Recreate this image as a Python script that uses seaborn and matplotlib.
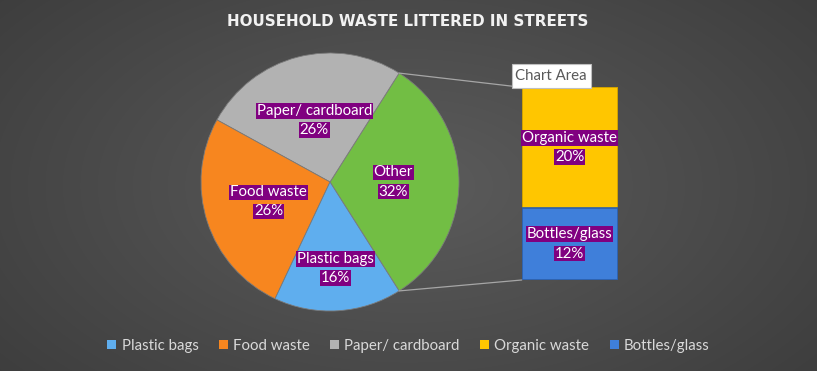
import numpy as np
import matplotlib
matplotlib.use("Agg")
import matplotlib.pyplot as plt
from matplotlib.patches import Patch, Rectangle, ConnectionPatch
import seaborn as sns

# data
pie_labels = ["Other", "Paper/ cardboard", "Food waste", "Plastic bags"]
pie_values = [32, 26, 26, 16]
bar_labels = ["Organic waste", "Bottles/glass"]
bar_values = [20, 12]
legend_labels = ["Plastic bags", "Food waste", "Paper/ cardboard", "Organic waste", "Bottles/glass"]

colores = {"Plastic bags": "#5FAEEE", "Food waste": "#F7861F", "Paper/ cardboard": "#B2B2B2",
           "Other": "#72BE44", "Organic waste": "#FFC600", "Bottles/glass": "#3F7FDA"}
bordes = {"Organic waste": "#C79A00", "Bottles/glass": "#2C5EA8"}

sns.set_theme(style="dark")
plt.rcParams["font.family"] = ["Lato", "DejaVu Sans"]

W, H = 817, 371
fig = plt.figure(figsize=(W / 100, H / 100), dpi=100)
ax = fig.add_axes([0, 0, 1, 1])

# fondo gris con degradado radial
yy, xx = np.mgrid[0:H, 0:W]
d = np.sqrt(((xx - W / 2) / (W * 0.6)) ** 2 + ((yy - H / 2) / (H * 0.75)) ** 2)
g = np.clip(0.36 - 0.11 * d, 0, 1)
ax.imshow(np.dstack([g, g, g]), extent=(0, W, 0, H), zorder=0, aspect="auto")

# pie
cx, cy, r = 330, H - 182, 129
wedges, _ = ax.pie(pie_values, colors=[colores[l] for l in pie_labels], center=(cx, cy), radius=r,
                   startangle=-pie_values[0] / 2 * 3.6, counterclock=True,
                   wedgeprops=dict(edgecolor="#7a7a7a", linewidth=0.6))
for w in wedges:
    w.set_zorder(2)

ax.set_xlim(0, W)
ax.set_ylim(0, H)
ax.set_aspect("equal")
ax.axis("off")

caja = dict(facecolor="#800080", edgecolor="none", pad=0.6)
radios = [0.49, 0.49, 0.5, 0.67]
for w, lab, val, rf in zip(wedges, pie_labels, pie_values, radios):
    ang = np.deg2rad((w.theta1 + w.theta2) / 2)
    tx, ty = cx + rf * r * np.cos(ang), cy + rf * r * np.sin(ang)
    ax.text(tx, ty + 9.5, lab, color="white", fontsize=10.8, ha="center", va="center", bbox=caja, zorder=5)
    ax.text(tx, ty - 9.5, f"{val}%", color="white", fontsize=10.8, ha="center", va="center", bbox=caja, zorder=5)

# barra del desglose de "Other"
bx0, by0, bx1, by1 = 521.7, 87.3, 617.7, 280
axb = fig.add_axes([bx0 / W, (H - by1) / H, (bx1 - bx0) / W, (by1 - by0) / H])
total = sum(bar_values)
sns.barplot(x=[0], y=[total], color=colores[bar_labels[0]], width=1, saturation=1,
            edgecolor=bordes[bar_labels[0]], linewidth=1.2, errorbar=None, ax=axb)
sns.barplot(x=[0], y=[bar_values[1]], color=colores[bar_labels[1]], width=1, saturation=1,
            edgecolor=bordes[bar_labels[1]], linewidth=1.2, errorbar=None, ax=axb)
axb.set_xlim(-0.5, 0.5)
axb.set_ylim(0, total)
axb.axis("off")
axb.patch.set_alpha(0)

abajo = 0
for lab, val in zip(bar_labels[::-1], bar_values[::-1]):
    mid = abajo + val / 2
    axb.text(0, mid + 1.6, lab, color="white", fontsize=10.8, ha="center", va="center", bbox=caja)
    axb.text(0, mid - 1.6, f"{val}%", color="white", fontsize=10.8, ha="center", va="center", bbox=caja)
    abajo += val

# lineas de conexion
w0 = wedges[0]
for th, yb in [(w0.theta2, total), (w0.theta1, 0)]:
    p = (cx + r * np.cos(np.deg2rad(th)), cy + r * np.sin(np.deg2rad(th)))
    con = ConnectionPatch(xyA=p, coordsA=ax.transData, xyB=(-0.5, yb), coordsB=axb.transData,
                          color="#A6A6A6", linewidth=0.9, zorder=1)
    fig.add_artist(con)

# tooltip "Chart Area"
fig.add_artist(Rectangle((511.7 / W, (H - 87.7) / H), 79 / W, 23.4 / H, transform=fig.transFigure,
                         facecolor="white", edgecolor="#bfbfbf", linewidth=0.8, zorder=10))
fig.text(551.2 / W, (H - 76) / H, "Chart Area", color="#595959", fontsize=10.8, ha="center", va="center", zorder=11)

# titulo
fig.text(408 / W, (H - 21) / H, "HOUSEHOLD WASTE LITTERED IN STREETS", color="#F2F2F2",
         fontsize=10.9, fontweight="bold", ha="center", va="center", family=["DejaVu Sans"])

# leyenda
handles = [Patch(facecolor=colores[l], edgecolor="none") for l in legend_labels]
fig.legend(handles, legend_labels, loc="center", bbox_to_anchor=(0.5, 1 - 346 / H), ncol=5,
           frameon=False, fontsize=10.8, labelcolor="#D9D9D9", handlelength=0.6, handleheight=0.6,
           handletextpad=0.35, columnspacing=1.35)

fig.savefig("out.png", dpi=100)
